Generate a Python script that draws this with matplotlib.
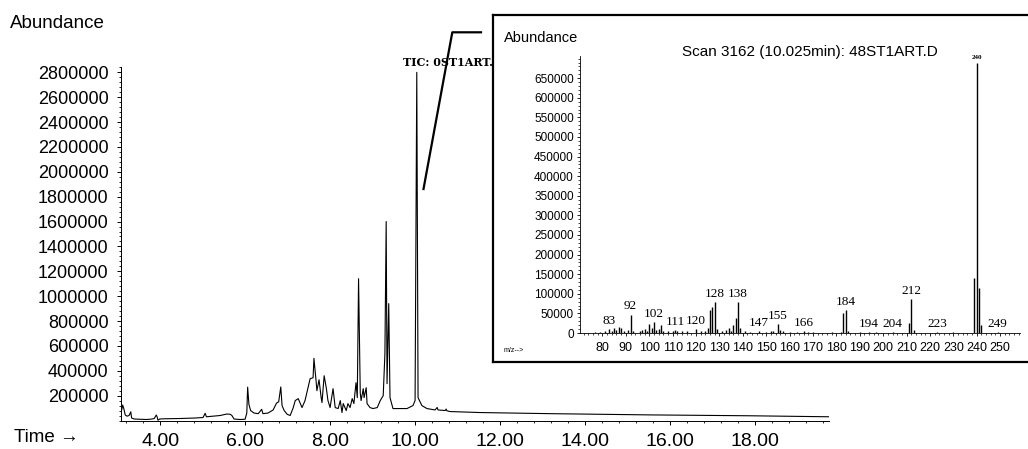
import matplotlib.pyplot as plt
from matplotlib.lines import Line2D
from matplotlib.ticker import MultipleLocator, FixedLocator

plt.rcParams['font.family'] = ['Liberation Sans', 'DejaVu Sans']

# TIC chromatogram (time in min, abundance)
tic_time = [3.08, 3.12, 3.15, 3.18, 3.22, 3.27, 3.31, 3.33, 3.39, 3.53, 3.67, 3.76,
            3.86, 3.91, 3.93, 3.95, 3.99, 4.12, 4.47, 4.82, 5.01, 5.06, 5.09, 5.22,
            5.41, 5.57, 5.65, 5.69, 5.74, 5.88, 6.00, 6.04, 6.06, 6.09, 6.13, 6.21,
            6.31, 6.39, 6.42, 6.54, 6.66, 6.74, 6.79, 6.84, 6.87, 6.92, 6.99, 7.06,
            7.13, 7.18, 7.25, 7.34, 7.41, 7.53, 7.60, 7.62, 7.67, 7.69, 7.74, 7.79,
            7.81, 7.86, 7.91, 7.95, 8.00, 8.07, 8.12, 8.19, 8.24, 8.28, 8.31, 8.38,
            8.42, 8.47, 8.52, 8.56, 8.61, 8.64, 8.67, 8.71, 8.73, 8.78, 8.80, 8.85,
            8.87, 8.94, 9.01, 9.11, 9.18, 9.25, 9.29, 9.32, 9.34, 9.38, 9.41, 9.48,
            9.65, 9.81, 9.95, 10.00, 10.04, 10.07, 10.16, 10.28, 10.47, 10.52, 10.54,
            10.71, 10.73, 10.75, 10.82, 11.53, 13.18, 15.53, 17.88, 19.74]
tic_abund = [60000, 124000, 90000, 44000, 35000, 40000, 70000, 20000, 12000, 10000, 8000, 10000,
             15000, 44000, 30000, 2000, 12000, 14000, 16000, 20000, 24000, 58000, 30000, 34000,
             40000, 52000, 50000, 40000, 12000, 8000, 10000, 60000, 268000, 130000, 80000, 60000,
             55000, 90000, 55000, 60000, 85000, 140000, 150000, 270000, 120000, 80000, 50000, 40000,
             100000, 160000, 176000, 104000, 160000, 336000, 344000, 500000, 320000, 240000, 328000, 184000,
             144000, 360000, 264000, 160000, 104000, 256000, 104000, 96000, 160000, 64000, 136000, 80000,
             136000, 104000, 176000, 136000, 304000, 184000, 1140000, 220000, 160000, 256000, 184000, 264000,
             136000, 104000, 96000, 104000, 160000, 200000, 536000, 1600000, 296000, 940000, 184000, 96000,
             96000, 96000, 120000, 160000, 2800000, 184000, 120000, 96000, 85000, 105000, 85000,
             80000, 92000, 78000, 72000, 64000, 55000, 45000, 38000, 30000]

time_ticks = [4, 6, 8, 10, 12, 14, 16, 18]
abund_ticks = list(range(200000, 2800001, 200000))

# mass spectrum of scan 3162
mz = [77, 79, 81, 83, 84, 85, 86, 87, 88, 89, 91, 92, 93, 96, 97, 98, 99, 100, 101, 102,
      103, 104, 105, 106, 108, 110, 111, 112, 114, 116, 120, 122, 124, 125, 126, 127, 128,
      129, 131, 133, 134, 135, 136, 137, 138, 139, 141, 143, 147, 150, 152, 153, 155, 156,
      157, 160, 163, 166, 168, 170, 178, 182, 183, 184, 185, 190, 194, 197, 204, 211, 212,
      213, 223, 230, 239, 240, 241, 242, 249]
intensity = [2000, 3000, 4000, 9000, 5000, 12000, 8000, 15000, 12000, 6000, 8000, 47000, 5000,
             4000, 8000, 10000, 6000, 22000, 14000, 28000, 8000, 10000, 20000, 6000, 5000, 5000,
             8000, 6000, 5000, 4000, 10000, 5000, 6000, 12000, 58000, 67000, 80000, 10000, 4000,
             8000, 12000, 5000, 20000, 38000, 80000, 12000, 4000, 3000, 6000, 3000, 4000, 6000,
             22000, 8000, 4000, 3000, 3000, 6000, 3000, 2000, 2000, 3000, 52000, 58000, 6000,
             2000, 3000, 2000, 3000, 25000, 86000, 8000, 3000, 2000, 140000, 690000, 115000,
             20000, 3000]
labelled_mz = [83, 92, 102, 111, 120, 128, 138, 147, 155, 166, 184, 194, 204, 212, 223, 249]
mz_ticks = list(range(80, 251, 10))
ms_ticks = list(range(0, 650001, 50000))

W, H = 1028, 449


def fx(px):
    return px / W


def fy(py):
    return 1 - py / H


fig = plt.figure(figsize=(W / 100, H / 100), dpi=100)

# main chromatogram
ax = fig.add_axes([fx(121), fy(420.5), (829 - 121) / W, (420.5 - 67) / H])
ax.plot(tic_time, tic_abund, color='black', lw=0.8)
ax.set_xlim(3.08, 19.74)
ax.set_ylim(0, 2843000)
for s in ['top', 'right']:
    ax.spines[s].set_visible(False)
for s in ['left', 'bottom']:
    ax.spines[s].set_linewidth(0.7)
ax.xaxis.set_major_locator(FixedLocator(time_ticks))
ax.set_xticklabels([f"{t:.2f}" for t in time_ticks], fontsize=14)
ax.xaxis.set_minor_locator(MultipleLocator(0.4))
ax.yaxis.set_major_locator(FixedLocator(abund_ticks))
ax.set_yticklabels([str(v) for v in abund_ticks], fontsize=13)
ax.yaxis.set_minor_locator(MultipleLocator(40000))
ax.tick_params(which='major', length=3, width=0.7, pad=6)
ax.tick_params(which='minor', length=1.5, width=0.6)
# trace title, mostly hidden behind the inset frame
ax.text(fx(403), fy(62), "TIC: 0ST1ART.D", transform=fig.transFigure,
        family=['DejaVu Serif'], fontweight='bold', fontsize=8,
        va='center', ha='left', clip_on=False)

fig.text(fx(10), fy(24), "Abundance", fontsize=13.5, va='center', ha='left')
fig.text(fx(14), fy(438), "Time \u2192", fontsize=13.5, va='center', ha='left',
         family=['Liberation Sans', 'DejaVu Sans'])

# callout line from the main peak to the inset
fig.add_artist(Line2D([fx(423.5), fx(452.3), fx(481)], [fy(189), fy(32.3), fy(32.3)],
                      color='black', lw=1.6, transform=fig.transFigure))

# inset frame
frame = fig.add_axes([fx(493.3), fy(362.2), (1040 - 493.3) / W, (362.2 - 14.7) / H])
frame.set_xticks([])
frame.set_yticks([])
frame.set_facecolor('white')
for s in frame.spines.values():
    s.set_linewidth(1.6)

# inset mass spectrum
ax2 = fig.add_axes([fx(580), fy(333), (1020 - 580) / W, (333 - 56) / H])
ax2.patch.set_alpha(0)
ax2.vlines(mz, 0, intensity, color='black', lw=1.0)
ax2.set_xlim(70.4, 258.5)
ax2.set_ylim(0, 706600)
for s in ['top', 'right']:
    ax2.spines[s].set_visible(False)
for s in ['left', 'bottom']:
    ax2.spines[s].set_linewidth(0.6)
ax2.xaxis.set_major_locator(FixedLocator(mz_ticks))
ax2.set_xticklabels([str(m) for m in mz_ticks], fontsize=9)
ax2.xaxis.set_minor_locator(MultipleLocator(2))
ax2.yaxis.set_major_locator(FixedLocator(ms_ticks))
ax2.set_yticklabels([str(v) for v in ms_ticks], fontsize=8.5)
ax2.yaxis.set_minor_locator(MultipleLocator(10000))
ax2.tick_params(which='major', length=2.5, width=0.6, pad=2)
ax2.tick_params(axis='x', which='major', pad=4)
ax2.tick_params(which='minor', length=1.2, width=0.5)

lookup = dict(zip(mz, intensity))
for m in labelled_mz:
    ax2.annotate(str(m), (m, lookup[m]), xytext=(0, 1.5), textcoords='offset points',
                 ha='center', va='bottom', fontsize=9.5,
                 family=['Liberation Serif', 'DejaVu Serif'])
ax2.annotate("240", (240, lookup[240]), xytext=(0, 2), textcoords='offset points',
             ha='center', va='bottom', fontsize=5, fontweight='bold',
             family=['Liberation Serif', 'DejaVu Serif'])

fig.text(fx(503.8), fy(38), "Abundance", fontsize=10.5, va='center', ha='left')
fig.text(fx(809.7), fy(52), "Scan 3162 (10.025min): 48ST1ART.D", fontsize=11,
         va='center', ha='center')
fig.text(fx(504), fy(351), "m/z-->", fontsize=5, va='center', ha='left')

fig.savefig("out.png", dpi=100)
